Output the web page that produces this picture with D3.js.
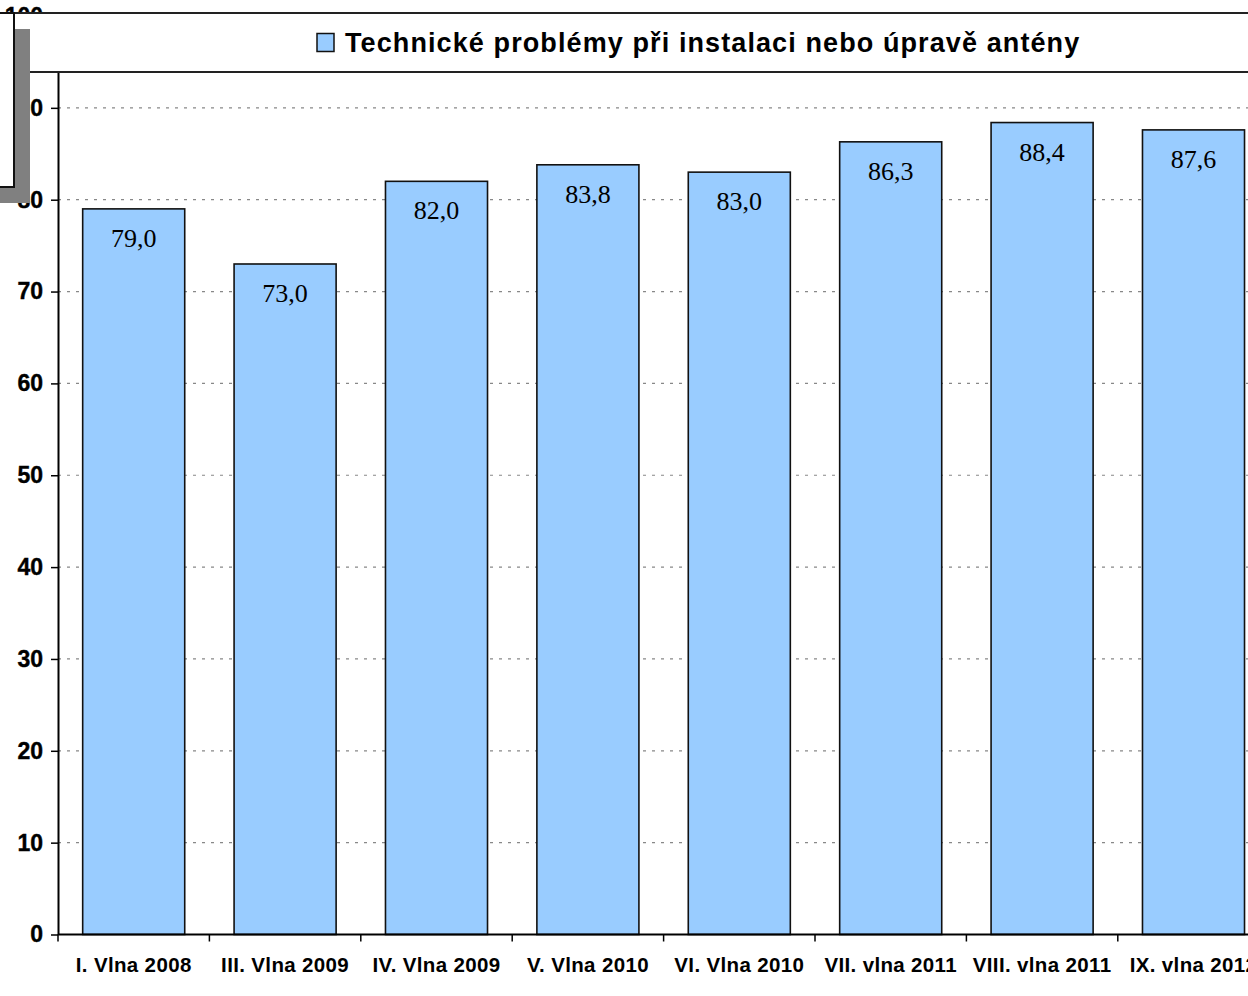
<!DOCTYPE html>
<html><head><meta charset="utf-8">
<script src="https://cdn.jsdelivr.net/npm/d3@7"></script>
<style>html,body{margin:0;padding:0;background:#fff;overflow:hidden}</style>
</head><body><svg id="c" width="1248" height="996"></svg>
<script>
const categories = ["I. Vlna 2008","III. Vlna 2009","IV. Vlna 2009","V. Vlna 2010","VI. Vlna 2010","VII. vlna 2011","VIII. vlna 2011","IX. vlna 2012"];
const values = [79.0, 73.0, 82.0, 83.8, 83.0, 86.3, 88.4, 87.6];
const yTicks = [0,10,20,30,40,50,60,70,80,90,100];
const seriesName = "Technické problémy při instalaci nebo úpravě antény";

const svg = d3.select("#c");
const x0 = 58, y0 = 934.5, yTop = 16;
const step = 151.4;
const x = d3.scaleBand().domain(categories).range([x0, x0 + step*categories.length]).paddingInner(0.326).paddingOuter(0.163);
const y = d3.scaleLinear().domain([0,100]).range([y0, yTop]);

// gridlines
svg.append("g").selectAll("line").data(yTicks.filter(d=>d>0)).join("line")
  .attr("x1", x0).attr("x2", 1248).attr("y1", d=>y(d)).attr("y2", d=>y(d))
  .attr("stroke", "#888").attr("stroke-width", 1.2).attr("stroke-dasharray", "3,6");

// bars
svg.append("g").selectAll("rect").data(values).join("rect")
  .attr("x", (d,i)=>x(categories[i])).attr("width", x.bandwidth())
  .attr("y", d=>y(d)).attr("height", d=>y0 - y(d))
  .attr("fill", "#99ccff").attr("stroke", "#111").attr("stroke-width", 1.6);

// value labels
svg.append("g").selectAll("text").data(values).join("text")
  .attr("x", (d,i)=>x(categories[i]) + x.bandwidth()/2)
  .attr("y", d=>y(d) + 38)
  .attr("text-anchor", "middle")
  .attr("font-family", "'Liberation Serif','Times New Roman',serif")
  .attr("font-size", 26).attr("fill", "#000")
  .text(d=>d.toFixed(1).replace(".", ","));

// y axis
const ya = svg.append("g").attr("transform", `translate(${x0},0)`)
  .call(d3.axisLeft(y).tickValues(yTicks).tickSize(7).tickPadding(8).tickSizeOuter(0));
ya.select(".domain").attr("stroke", "#000").attr("stroke-width", 2);
ya.selectAll(".tick line").attr("stroke", "#000").attr("stroke-width", 1.5);
ya.selectAll(".tick text").attr("font-family", "'Liberation Sans',Arial,sans-serif")
  .attr("font-weight", "bold").attr("font-size", 23).attr("fill", "#000")
  .attr("stroke", "#000").attr("stroke-width", 0.4);

// x axis
const boundaries = categories.map(c => x(c) - x.step()*x.paddingInner()/2);
svg.append("line").attr("x1", x0).attr("x2", 1248).attr("y1", y0).attr("y2", y0)
  .attr("stroke", "#000").attr("stroke-width", 2);
svg.append("g").selectAll("line").data(boundaries).join("line")
  .attr("x1", d=>d).attr("x2", d=>d).attr("y1", y0).attr("y2", y0 + 7)
  .attr("stroke", "#000").attr("stroke-width", 1.5);
svg.append("g").selectAll("text").data(categories).join("text")
  .attr("x", c=>x(c) + x.bandwidth()/2).attr("y", 972)
  .attr("text-anchor", "middle")
  .attr("font-family", "'Liberation Sans',Arial,sans-serif")
  .attr("font-weight", "bold").attr("font-size", 20.5).attr("fill", "#000")
  .attr("letter-spacing", 0.35)
  .text(c=>c);

// legend box
svg.append("rect").attr("x", 0).attr("y", 13).attr("width", 1260).attr("height", 59)
  .attr("fill", "#fff").attr("stroke", "#222").attr("stroke-width", 2);
svg.append("rect").attr("x", 317).attr("y", 33.5).attr("width", 17).attr("height", 18)
  .attr("fill", "#99ccff").attr("stroke", "#111").attr("stroke-width", 1.5);
svg.append("text").attr("x", 345).attr("y", 52)
  .attr("font-family", "'Liberation Sans',Arial,sans-serif")
  .attr("font-weight", "bold").attr("font-size", 27).attr("fill", "#000")
  .attr("letter-spacing", 1.1)
  .text(seriesName);

// top-left text box with shadow
svg.append("rect").attr("x", 14).attr("y", 29).attr("width", 16).attr("height", 174).attr("fill", "#808080");
svg.append("rect").attr("x", -2).attr("y", 187).attr("width", 32).attr("height", 16).attr("fill", "#808080");
svg.append("rect").attr("x", -10).attr("y", 13).attr("width", 24).attr("height", 174)
  .attr("fill", "#fff").attr("stroke", "#111").attr("stroke-width", 2);
</script></body></html>
